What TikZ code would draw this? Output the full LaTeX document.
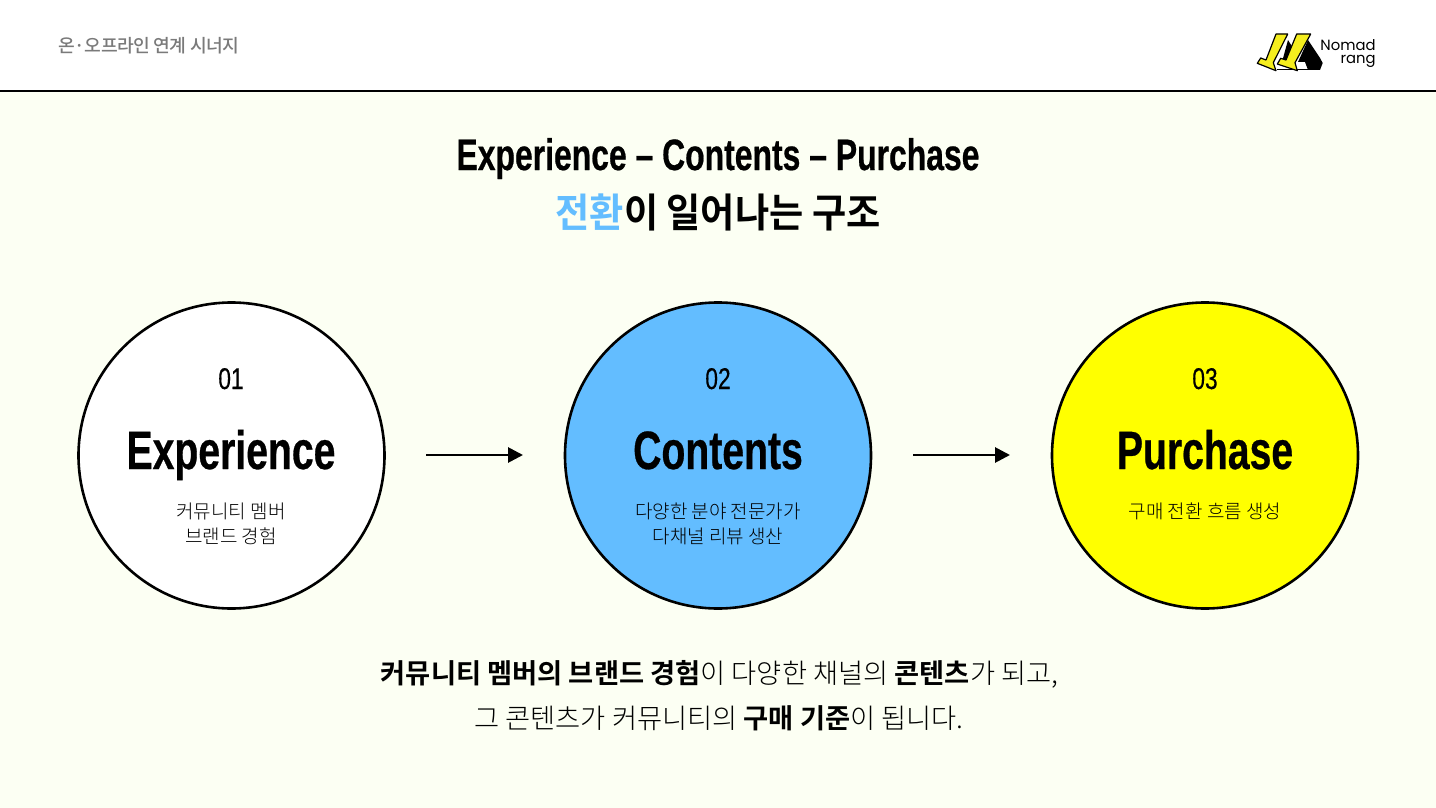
\documentclass[tikz,border=0pt]{standalone}
\usepackage{fontspec}
\usetikzlibrary{arrows.meta}
\setmainfont{Noto Sans CJK KR Light}[BoldFont={Noto Sans CJK KR Bold}]
\newfontfamily\korhead{Noto Sans CJK KR Medium}[LetterSpace=-3]
\newfontfamily\kortitle{Noto Sans CJK KR Bold}[FakeStretch=0.93]
\newfontfamily\dinbold{Liberation Sans Bold}[FakeStretch=0.725,FakeBold=0.5]
\newfontfamily\dinreg{Liberation Sans}[FakeStretch=0.76,FakeBold=0.3]
\newfontfamily\logofont{Poppins}
\definecolor{paper}{HTML}{FCFFF3}
\definecolor{skyblue}{HTML}{63BDFF}
\definecolor{brightyellow}{HTML}{FFFF00}
\definecolor{grayhead}{HTML}{7A7A7A}
\definecolor{logoyellow}{HTML}{F5EE1E}
\begin{document}
\begin{tikzpicture}[x=0.5pt,y=-0.5pt]
    \tikzstyle{every node}+=[inner sep=0pt]
    \tikzstyle{stagecircle}=[circle,draw=black,line width=1.3pt,minimum size=153pt]
    \tikzstyle{flowarrow}=[black,line width=1.4pt,-{Triangle[length=7.5pt,width=7.5pt]}]
    \tikzstyle{logoleg}=[draw=black,line width=0.6pt,fill=logoyellow,line join=round]
    \tikzstyle{stagetext}=[align=center,font=\fontsize{9.5pt}{12.6pt}\selectfont]
    \useasboundingbox (0,0) rectangle (1436,808);
    \fill [white] (0,0) rectangle (1436,90);
    \fill [paper] (0,90) rectangle (1436,808);
    \draw [black,line width=1pt] (0,90.7) -- (1436,90.7);
    % header
    \node (headtitle) at (149,45.5) {\fontsize{9.1pt}{12pt}\selectfont\korhead\color{grayhead}온·오프라인 연계 시너지};
    % logo
    \fill [black] (1288,40) -- (1296,53) -- (1290,63) -- (1282,62) -- cycle;
    \fill [black] (1308,40) -- (1320,58) -- (1322.7,63) -- (1320,70) -- (1308,70) -- (1305,62) -- (1298,62) -- cycle;
    \fill [black] (1277,69.5) rectangle (1320,70.5);
    \draw [logoleg] (1276,34) -- (1287.7,34) -- (1273.3,62.7) -- (1276,70.7) -- (1257.3,63.3) -- (1260.7,58) -- (1266,60) -- cycle;
    \draw [logoleg] (1296.7,34) -- (1310.7,34) -- (1295,62.7) -- (1297.3,70.7) -- (1277.3,64) -- (1280.7,58.3) -- (1286,60) -- cycle;
    \node (logotop) [anchor=base east] at (1376,51) {\fontsize{7.4pt}{8pt}\selectfont\logofont Nomad};
    \node (logobottom) [anchor=base east] at (1376,64) {\fontsize{7.4pt}{8pt}\selectfont\logofont rang};
    % title
    \node (titleone) [anchor=base] at (718,170) {\fontsize{22pt}{24pt}\selectfont\dinbold Experience – Contents – Purchase};
    \node (titletwo) at (718,212) {\fontsize{20pt}{24pt}\selectfont\kortitle{\color{skyblue}전환}이 일어나는 구조};
    % circles
    \node (experience) [stagecircle,fill=white] at (231.5,455.5) {};
    \node (contents) [stagecircle,fill=skyblue] at (718,455.5) {};
    \node (purchase) [stagecircle,fill=brightyellow] at (1205,455.5) {};
    \foreach \name/\cx/\num/\word in {expa/231/01/Experience,conta/718/02/Contents,purcha/1205/03/Purchase} {
        \node (\name num) [anchor=base] at (\cx,389) {\fontsize{15pt}{16pt}\selectfont\dinreg \num};
        \node (\name word) [anchor=base] at (\cx,469) {\fontsize{27pt}{30pt}\selectfont\dinbold \word};
    }
    \node (exptext) [stagetext] at (231,524) {커뮤니티 멤버\\브랜드 경험};
    \node (contexttext) [stagetext] at (718,524) {다양한 분야 전문가가\\다채널 리뷰 생산};
    \node (purtext) [stagetext] at (1205,511) {구매 전환 흐름 생성};
    % arrows
    \coordinate (arrowa) at (426,455);
    \coordinate (arrowb) at (523,455);
    \coordinate (arrowc) at (913,455);
    \coordinate (arrowd) at (1010,455);
    \draw [flowarrow] (arrowa) -- (arrowb);
    \draw [flowarrow] (arrowc) -- (arrowd);
    % bottom text
    \node (bottomone) at (719.5,674) {\fontsize{13.65pt}{16pt}\selectfont\textbf{커뮤니티 멤버의 브랜드 경험}이 다양한 채널의 \textbf{콘텐츠}가 되고,};
    \node (bottomtwo) at (719,718) {\fontsize{13.65pt}{16pt}\selectfont 그 콘텐츠가 커뮤니티의 \textbf{구매 기준}이 됩니다.};
\end{tikzpicture}
\end{document}
